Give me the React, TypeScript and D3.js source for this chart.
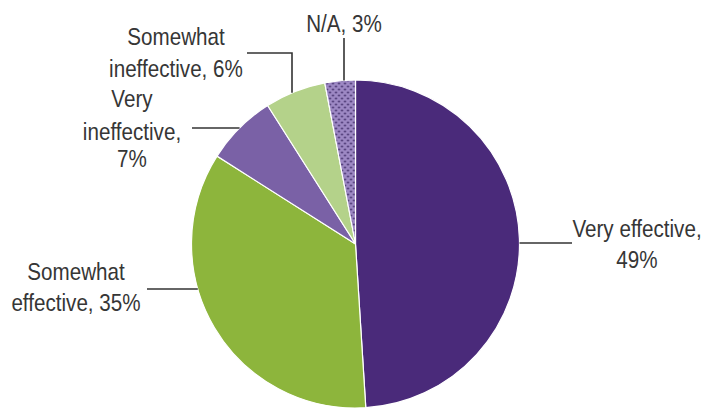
import React from "react";
import * as d3 from "d3";

const categories = ["Very effective", "Somewhat effective", "Very ineffective", "Somewhat ineffective", "N/A"];
const values = [49, 35, 7, 6, 3];
const labelLines = [
  ["Very effective,", "49%"],
  ["Somewhat", "effective, 35%"],
  ["Very", "ineffective,", "7%"],
  ["Somewhat", "ineffective, 6%"],
  ["N/A, 3%"],
];

const colors = ["#4a2a7a", "#8db53c", "#7a61a6", "#b4d28a", "url(#dots)"];

// label layout: text anchor x, baselines, leader definition
const labelLayout = [
  { x: 637, ys: [237, 268], leader: { kind: "h", y: 243, x: 572, side: 1 } },
  { x: 76, ys: [280, 311], leader: { kind: "h", y: 289, x: 147, side: -1 } },
  { x: 132, ys: [107, 140, 167], leader: { kind: "h", y: 128, x: 192, side: -1 } },
  { x: 176, ys: [45, 77], leader: { kind: "elbow", y: 53, x0: 247, x: 292 } },
  { x: 344, ys: [32], leader: { kind: "v", y: 38, x: 344 } },
];

const W = 704;
const H = 411;
const cx = 355.5;
const cy = 244;
const R = 164;
const FONT_SIZE = 24;
const SCALE_X = 0.86;

export default function App() {
  const pie = d3.pie<number>().sort(null).value((d) => d).startAngle(0).endAngle(2 * Math.PI);
  const arcs = pie(values);
  const arc = d3.arc<d3.PieArcDatum<number>>().innerRadius(0).outerRadius(R);

  const edgeX = (y: number, side: number) => cx + side * Math.sqrt(R * R - (y - cy) * (y - cy));
  const edgeY = (x: number) => cy - Math.sqrt(R * R - (x - cx) * (x - cx));

  const leaderPath = (l: any) => {
    if (l.kind === "h") {
      return `M${l.x},${l.y}H${edgeX(l.y, l.side)}`;
    }
    if (l.kind === "v") {
      return `M${l.x},${l.y}V${edgeY(l.x)}`;
    }
    return `M${l.x0},${l.y}H${l.x}V${edgeY(l.x)}`;
  };

  return (
    <svg
      width={W}
      height={H}
      style={{ position: "absolute", left: 0, top: 0, background: "#fff" }}
    >
      <defs>
        <pattern id="dots" width={6} height={6} patternUnits="userSpaceOnUse">
          <rect width={6} height={6} fill="#9d88c4" />
          <circle cx={1.5} cy={1.5} r={1} fill="#3e2a66" />
          <circle cx={4.5} cy={4.5} r={1} fill="#3e2a66" />
        </pattern>
      </defs>
      <g transform={`translate(${cx},${cy})`}>
        {arcs.map((a, i) => (
          <path key={categories[i]} d={arc(a) || ""} fill={colors[i]} stroke="#ffffff" strokeWidth={1.2} />
        ))}
      </g>
      {labelLayout.map((lay, i) => (
        <g key={categories[i]}>
          <path d={leaderPath(lay.leader)} fill="none" stroke="#333" strokeWidth={1.6} />
          {labelLines[i].map((t, j) => (
            <text
              key={j}
              transform={`translate(${lay.x},${lay.ys[j]}) scale(${SCALE_X},1)`}
              textAnchor="middle"
              fontFamily="'Liberation Sans', Arial, sans-serif"
              fontSize={FONT_SIZE}
              fill="#363636"
            >
              {t}
            </text>
          ))}
        </g>
      ))}
    </svg>
  );
}
